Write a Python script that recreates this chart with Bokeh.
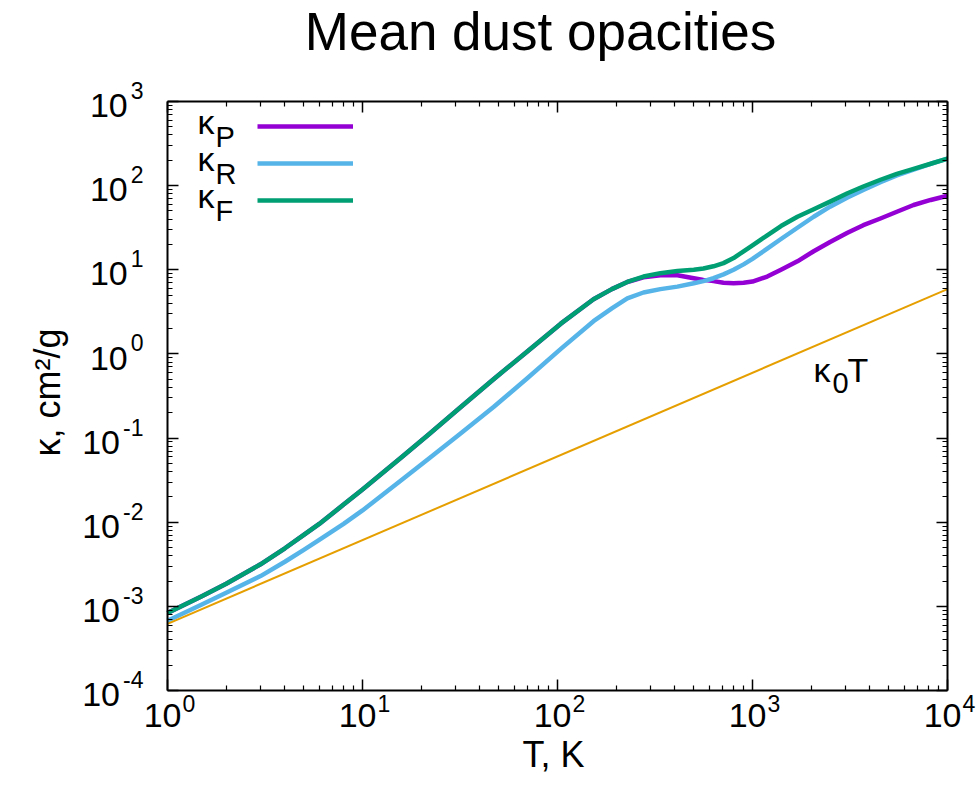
import math
from bokeh.plotting import figure
from bokeh.models import (FixedTicker, LogAxis, LogScale, Label, LabelSet, ColumnDataSource,
                          Legend, LegendItem, CustomJSTickFormatter)
from bokeh.core.properties import value
from bokeh.embed import file_html
from bokeh.resources import INLINE

# ---------------- data ----------------
T = [1, 1.5, 2, 3, 4, 5, 6, 8, 10, 15.8, 22, 31.6, 47, 70, 104, 153, 190, 228, 276,
     337, 412, 500, 560, 631, 710, 800, 900, 1000, 1190, 1400, 1700, 2060, 2500,
     3070, 3700, 4530, 5500, 6700, 8200, 10000]

kappa_F = [8.32e-4, 1.32e-3, 1.86e-3, 3.16e-3, 4.90e-3, 7.08e-3, 9.55e-3, 0.0162,
           0.0245, 0.0589, 0.112, 0.229, 0.501, 1.07, 2.29, 4.47, 5.89, 7.16, 8.32,
           9.12, 9.66, 10.0, 10.35, 11.0, 12.0, 13.8, 16.6, 19.5, 25.7, 33.1, 42.7,
           52.5, 64.6, 81.3, 97.7, 117.5, 138, 158, 182, 209]

kappa_R = [6.76e-4, 1.05e-3, 1.45e-3, 2.29e-3, 3.39e-3, 4.68e-3, 6.17e-3, 9.55e-3,
           0.0138, 0.0316, 0.0575, 0.112, 0.234, 0.513, 1.15, 2.45, 3.47, 4.57, 5.37,
           5.89, 6.31, 6.92, 7.33, 7.94, 8.81, 10.0, 11.6, 13.5, 17.8, 23.2, 31.6,
           42.7, 56.2, 72.4, 89.1, 110, 132, 155, 182, 209]

kappa_P = [8.32e-4, 1.32e-3, 1.86e-3, 3.16e-3, 4.90e-3, 7.08e-3, 9.55e-3, 0.0162,
           0.0245, 0.0589, 0.112, 0.229, 0.501, 1.07, 2.29, 4.47, 5.89, 7.16, 8.13,
           8.61, 8.61, 7.94, 7.59, 7.33, 7.0, 6.92, 7.0, 7.24, 8.32, 10.0, 12.6,
           16.6, 21.4, 27.5, 33.9, 40.7, 49.0, 58.9, 67.6, 75.9]

T_line = [1, 10000]
kappa0_T = [6.2e-4, 5.9]

x_major = [1, 10, 100, 1000, 10000]
x_exp = ["0", "1", "2", "3", "4"]
y_major = [1e-4, 1e-3, 1e-2, 1e-1, 1, 10, 100, 1000]
y_exp = ["-4", "-3", "-2", "-1", "0", "1", "2", "3"]

legend_subs = ["P", "R", "F"]
title_text = "Mean dust opacities"
x_title = "T, K"
y_title = "κ, cm²/g"

FONT = "Liberation Sans"
INK = "black"
C_P, C_R, C_F, C_0 = "#9400D3", "#56B4E9", "#009E73", "#E69F00"

# page geometry: the plot box sits at these pixels; the Bokeh frame is the whole page
W, H = 980, 802
FL, FR, FT, FB = 167, 947, 101, 690
XMIN, XMAX = x_major[0], x_major[-1]
YMIN, YMAX = y_major[0], y_major[-1]
px_per_dec_x = (FR - FL) / (math.log10(XMAX) - math.log10(XMIN))
px_per_dec_y = (FB - FT) / (math.log10(YMAX) - math.log10(YMIN))
x_range = (10 ** (math.log10(XMIN) - FL / px_per_dec_x),
           10 ** (math.log10(XMAX) + (W - FR) / px_per_dec_x))
y_range = (10 ** (math.log10(YMIN) - (H - FB) / px_per_dec_y),
           10 ** (math.log10(YMAX) + FT / px_per_dec_y))

def sx(px):
    return px

def sy(py):
    return H - py

def mid(baseline, size):
    # vertical centre used with text_baseline="middle" for a given baseline
    return baseline - 0.35 * size

p = figure(width=W, height=H, x_axis_type=None, y_axis_type=None,
           x_range=x_range, y_range=y_range,
           output_backend="svg", toolbar_location=None,
           min_border=0, min_border_left=0, min_border_right=0,
           min_border_top=0, min_border_bottom=0)
p.x_scale = LogScale()
p.y_scale = LogScale()
p.grid.visible = False
p.outline_line_color = None
p.background_fill_color = "white"
p.border_fill_color = "white"

x_minor = [m * 10.0 ** k for k in range(0, 4) for m in range(2, 10)]
y_minor = [m * 10.0 ** k for k in range(-4, 3) for m in range(2, 10)]

def make_axis(ticks, minors, bounds, loc):
    ax = LogAxis(fixed_location=loc, bounds=bounds)
    ax.ticker = FixedTicker(ticks=ticks, minor_ticks=minors)
    ax.formatter = CustomJSTickFormatter(code="return ''")
    ax.major_tick_in = 11
    ax.major_tick_out = 0
    ax.minor_tick_in = 5
    ax.minor_tick_out = 0
    ax.axis_line_color = INK
    ax.axis_line_width = 2
    ax.major_tick_line_color = INK
    ax.major_tick_line_width = 1.5
    ax.minor_tick_line_color = INK
    ax.minor_tick_line_width = 1.2
    ax.major_label_standoff = 0
    return ax

p.add_layout(make_axis(x_major, x_minor, (XMIN, XMAX), YMIN), "below")
p.add_layout(make_axis(x_major, x_minor, (XMIN, XMAX), YMAX), "above")
p.add_layout(make_axis(y_major, y_minor, (YMIN, YMAX), XMIN), "left")
p.add_layout(make_axis(y_major, y_minor, (YMIN, YMAX), XMAX), "right")

# ---------------- curves ----------------
rP = p.line(T, kappa_P, line_color=C_P, line_width=4.5, line_join="round")
rR = p.line(T, kappa_R, line_color=C_R, line_width=4.5, line_join="round")
rF = p.line(T, kappa_F, line_color=C_F, line_width=4.5, line_join="round")
r0 = p.line(T_line, kappa0_T, line_color=C_0, line_width=2)

# ---------------- legend (lines only, text drawn left of them) ----------------
LEG_X0, LEG_Y0, LEG_PITCH = 257, 126, 37
legend = Legend(items=[LegendItem(label=" ", renderers=[r]) for r in (rP, rR, rF)],
                location=(sx(LEG_X0), sy(LEG_Y0 - 10 + 3 * 20 + 2 * 17)),
                glyph_width=96, glyph_height=20, label_width=0, label_height=20,
                label_standoff=0, spacing=LEG_PITCH - 20, padding=0, margin=0,
                border_line_color=None, background_fill_alpha=0,
                label_text_font_size="1px")
p.add_layout(legend)

def lbl(x, baseline, text, size, align="left", angle=0.0):
    if angle == 0.0:
        xx, yy = x, mid(baseline, size)
    else:  # rotated 90 deg: "baseline" is an x position, x is the y centre
        xx, yy = baseline - 0.35 * size, x
    p.add_layout(Label(x=sx(xx), y=sy(yy), x_units="screen", y_units="screen",
                       text=text, text_font=FONT, text_font_size=f"{size}px",
                       text_color=INK, angle=angle,
                       text_align=align, text_baseline="middle"))

for i, sub in enumerate(legend_subs):
    ly = LEG_Y0 + i * LEG_PITCH
    lbl(197, ly + 7, "κ", 34)
    lbl(215, ly + 21, sub, 29)

# kappa0 T label
lbl(813, 381, "κ", 34)
lbl(832, 393, "0", 29)
lbl(847, 381, "T", 34)

# ---------------- tick labels ----------------
BASE_PX, EXP_PX = 34, 23
for t, e in zip(x_major, x_exp):
    p.add_layout(Label(x=t, x_units="data", y=sy(mid(727, BASE_PX)), y_units="screen",
                       x_offset=14, text="10", text_align="right", text_baseline="middle",
                       text_color=INK, text_font=FONT, text_font_size=f"{BASE_PX}px"))
    p.add_layout(Label(x=t, x_units="data", y=sy(mid(711, EXP_PX)), y_units="screen",
                       x_offset=15, text=e, text_align="left", text_baseline="middle",
                       text_color=INK, text_font=FONT, text_font_size=f"{EXP_PX}px"))

def exp_width(s):
    return sum(7.7 if ch == "-" else 12.8 for ch in s)

Y_LABEL_RIGHT = 143
src_y = ColumnDataSource(dict(y=y_major, base=["10"] * len(y_major), exp=y_exp,
                              xe=[sx(Y_LABEL_RIGHT)] * len(y_major),
                              xb=[sx(Y_LABEL_RIGHT - exp_width(e) - 3) for e in y_exp]))
p.add_layout(LabelSet(x="xe", y="y", x_units="screen", text="exp", source=src_y,
                      y_offset=3 + 0.35 * EXP_PX,
                      text_align="right", text_baseline="middle",
                      text_color=INK, text_font=value(FONT),
                      text_font_size=value(f"{EXP_PX}px")))
p.add_layout(LabelSet(x="xb", y="y", x_units="screen", text="base", source=src_y,
                      y_offset=-(16 - 0.35 * BASE_PX),
                      text_align="right", text_baseline="middle",
                      text_color=INK, text_font=value(FONT),
                      text_font_size=value(f"{BASE_PX}px")))

# ---------------- titles ----------------
lbl(540, 50, title_text, 53, align="center")
lbl(553, 767, x_title, 36, align="center")
lbl(392, 60, y_title, 36, align="center", angle=math.pi / 2)

open("out.html", "w").write(file_html(p, INLINE))
